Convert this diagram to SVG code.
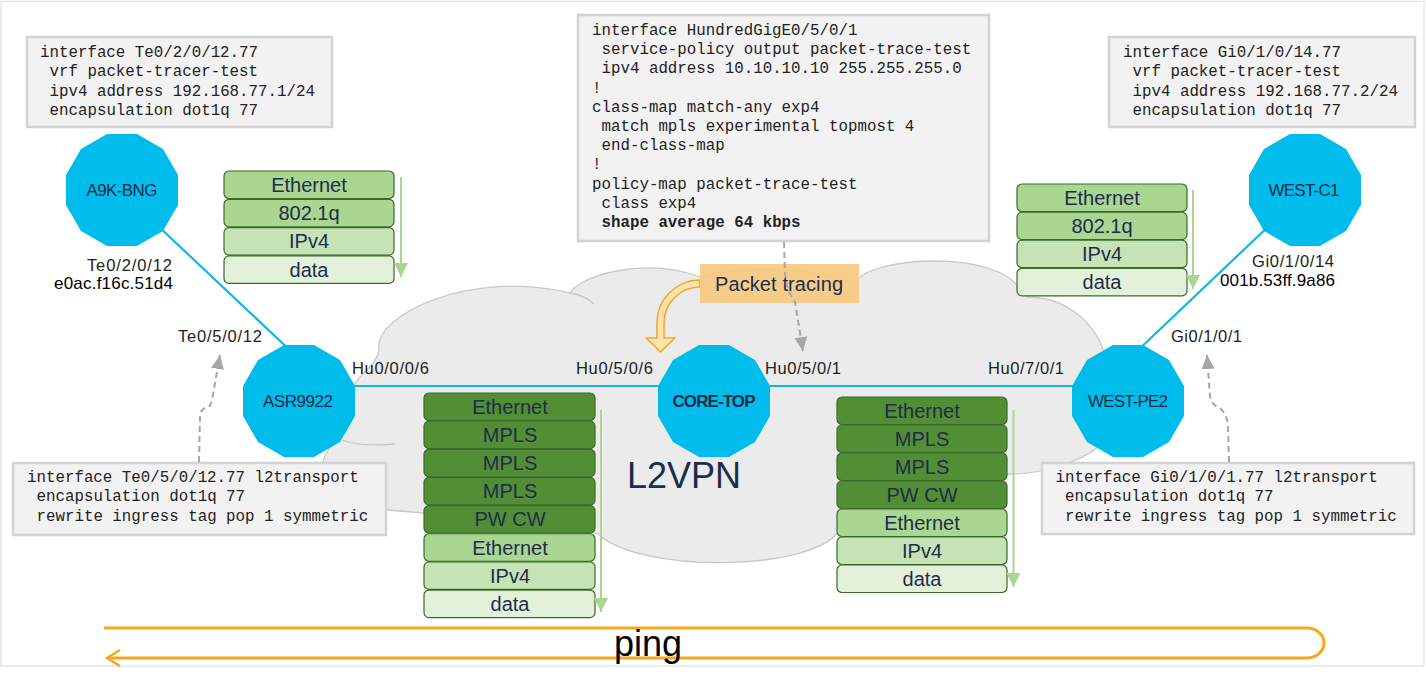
<svg xmlns="http://www.w3.org/2000/svg" xmlns:xlink="http://www.w3.org/1999/xlink" width="1426" height="686" viewBox="0 0 1426 686">
<style>
.cfgbox{fill:#f2f2f2;stroke:#d3d3d3;stroke-width:2.5}
.cfg{font-family:"Liberation Mono","Courier New",monospace;font-size:15.8px;fill:#222}
.node{fill:#00bceb}
.nlabel{font-family:"Liberation Sans",Arial,sans-serif;font-size:17px;fill:#1b2a4a;text-anchor:middle}
.link{stroke:#12b5e5;stroke-width:2.2;fill:none}
.if{font-family:"Liberation Sans",Arial,sans-serif;font-size:16.5px;fill:#222}
.mac{font-family:"Liberation Sans",Arial,sans-serif;font-size:17px;fill:#000}
.r{stroke:#3b6a2a;stroke-width:1.2}
.dk{fill:#528e34}
.md{fill:#a9d691}
.lt{fill:#c6e3b5}
.xl{fill:#e3f1da}
.st{font-family:"Liberation Sans",Arial,sans-serif;font-size:20px;fill:#1c2d4d;text-anchor:middle}
.garrow{stroke:#a9d691;stroke-width:2;fill:none}
.dash{stroke:#a6a6a6;stroke-width:2;stroke-dasharray:6 4;fill:none}
.cloud{fill:#ebebeb;stroke:#c8c8c8;stroke-width:1.3}
.inner{fill:none;stroke:#c8c8c8;stroke-width:1.3}
</style>
<defs>
<polygon id="dodeca" points="56,-15 41,-41 15,-56 -15,-56 -41,-41 -56,-15 -56,15 -41,41 -15,56 15,56 41,41 56,15"/>
<marker id="gArrow" markerUnits="userSpaceOnUse" markerWidth="14" markerHeight="14" refX="12" refY="6" orient="auto" viewBox="0 0 12 12">
<path d="M0,0 L12,6 L0,12 Z" fill="#a9d691"/>
</marker>
<marker id="dArrow" markerUnits="userSpaceOnUse" markerWidth="14" markerHeight="14" refX="13" refY="6" orient="auto" viewBox="0 0 13 12">
<path d="M0,0 L13,6 L0,12 Z" fill="#a6a6a6"/>
</marker>
</defs>

<rect x="1" y="1.5" width="1423" height="664.5" fill="#ffffff" stroke="#e6e6e6" stroke-width="1.5"/>

<g id="cloud-l2vpn">
<path class="cloud" d="M348,400 C352,375 378,368 379,348 C374,318 465,268 570,293 C585,272 650,258 700,277 Q780,258 855,283 C870,255 1000,250 1020,290 L1028,297 A80,80 0 0 1 1104,352 L1098,447 C1080,462 1040,475 1007,474 L837,533 C810,570 640,575 597,533 L424,513 L387,510 L322,470 C322,455 333,441 342,438 L340,420 Z"/>
<path class="inner" d="M342,440 Q360,447 395,444"/>
<path class="inner" d="M570,293 Q586,296 594,304"/>
<text x="627" y="488" font-family="Liberation Sans, Arial, sans-serif" font-size="36" fill="#1c2d4d">L2VPN</text>
</g>

<g id="connectors">
<line class="link" x1="140" y1="209" x2="295" y2="355"/>
<line class="link" x1="299" y1="386" x2="714" y2="386"/>
<line class="link" x1="714" y1="386" x2="1128" y2="386"/>
<line class="link" x1="1133" y1="355" x2="1274" y2="221"/>
</g>

<g id="node-a9k-bng"><use xlink:href="#dodeca" href="#dodeca" x="122" y="190" class="node"/><text class="nlabel" x="122" y="196" textLength="71">A9K-BNG</text></g>
<g id="node-asr9922"><use xlink:href="#dodeca" href="#dodeca" x="299" y="401" class="node"/><text class="nlabel" x="298" y="407" textLength="70">ASR9922</text></g>
<g id="node-core-top"><use xlink:href="#dodeca" href="#dodeca" x="714" y="401" class="node"/><text class="nlabel" x="714" y="407" font-weight="bold" textLength="83">CORE-TOP</text></g>
<g id="node-west-pe2"><use xlink:href="#dodeca" href="#dodeca" x="1128" y="401" class="node"/><text class="nlabel" x="1128" y="407" textLength="80">WEST-PE2</text></g>
<g id="node-west-c1"><use xlink:href="#dodeca" href="#dodeca" x="1305" y="190" class="node"/><text class="nlabel" x="1304" y="196" textLength="71">WEST-C1</text></g>

<g id="interface-labels">
<text class="if" x="87" y="271" textLength="85">Te0/2/0/12</text>
<text class="mac" x="54" y="289" textLength="119">e0ac.f16c.51d4</text>
<text class="if" x="178" y="342" textLength="84">Te0/5/0/12</text>
<text class="if" x="352" y="374" textLength="77">Hu0/0/0/6</text>
<text class="if" x="576" y="374" textLength="77">Hu0/5/0/6</text>
<text class="if" x="765" y="374" textLength="76">Hu0/5/0/1</text>
<text class="if" x="988" y="374" textLength="76">Hu0/7/0/1</text>
<text class="if" x="1171" y="342" textLength="71">Gi0/1/0/1</text>
<text class="if" x="1252" y="267" textLength="82">Gi0/1/0/14</text>
<text class="mac" x="1220" y="286" textLength="115">001b.53ff.9a86</text>
</g>

<g id="config-a9k-bng">
<rect class="cfgbox" x="27" y="37" width="305" height="90"/>
<text class="cfg" x="40" y="57">interface Te0/2/0/12.77</text>
<text class="cfg" x="49.5" y="76">vrf packet-tracer-test</text>
<text class="cfg" x="49.5" y="96">ipv4 address 192.168.77.1/24</text>
<text class="cfg" x="49.5" y="115">encapsulation dot1q 77</text>
</g>

<g id="config-core-top">
<rect class="cfgbox" x="578" y="15" width="411" height="226"/>
<text class="cfg" x="592" y="35">interface HundredGigE0/5/0/1</text>
<text class="cfg" x="601.5" y="54.2">service-policy output packet-trace-test</text>
<text class="cfg" x="601.5" y="73.4">ipv4 address 10.10.10.10 255.255.255.0</text>
<text class="cfg" x="592" y="92.6">!</text>
<text class="cfg" x="592" y="111.8">class-map match-any exp4</text>
<text class="cfg" x="601.5" y="131">match mpls experimental topmost 4</text>
<text class="cfg" x="601.5" y="150.2">end-class-map</text>
<text class="cfg" x="592" y="169.4">!</text>
<text class="cfg" x="592" y="188.6">policy-map packet-trace-test</text>
<text class="cfg" x="601.5" y="207.8">class exp4</text>
<text class="cfg" x="601.5" y="227" font-weight="bold">shape average 64 kbps</text>
</g>

<g id="config-west-c1">
<rect class="cfgbox" x="1109" y="37" width="306" height="90"/>
<text class="cfg" x="1123" y="57">interface Gi0/1/0/14.77</text>
<text class="cfg" x="1132.5" y="76">vrf packet-tracer-test</text>
<text class="cfg" x="1132.5" y="96">ipv4 address 192.168.77.2/24</text>
<text class="cfg" x="1132.5" y="115">encapsulation dot1q 77</text>
</g>

<g id="config-asr9922">
<rect class="cfgbox" x="13" y="463" width="373" height="72"/>
<text class="cfg" x="27" y="482">interface Te0/5/0/12.77 l2transport</text>
<text class="cfg" x="36.5" y="501">encapsulation dot1q 77</text>
<text class="cfg" x="36.5" y="521">rewrite ingress tag pop 1 symmetric</text>
</g>

<g id="config-west-pe2">
<rect class="cfgbox" x="1042" y="463" width="372" height="71"/>
<text class="cfg" x="1055.5" y="482">interface Gi0/1/0/1.77 l2transport</text>
<text class="cfg" x="1065" y="501">encapsulation dot1q 77</text>
<text class="cfg" x="1065" y="521">rewrite ingress tag pop 1 symmetric</text>
</g>

<g id="stack-a9k">
<rect class="r md" x="224" y="171" width="170" height="27.5" rx="5"/>
<rect class="r md" x="224" y="199.3" width="170" height="27.5" rx="5"/>
<rect class="r lt" x="224" y="227.6" width="170" height="27.5" rx="5"/>
<rect class="r xl" x="224" y="255.9" width="170" height="27.5" rx="5"/>
<text class="st" x="309" y="191.8">Ethernet</text>
<text class="st" x="309" y="220.1">802.1q</text>
<text class="st" x="309" y="248.4">IPv4</text>
<text class="st" x="309" y="276.7">data</text>
<line class="garrow" x1="401" y1="177" x2="401" y2="277" marker-end="url(#gArrow)"/>
</g>

<g id="stack-west-c1">
<rect class="r md" x="1017" y="184" width="170" height="27.5" rx="5"/>
<rect class="r md" x="1017" y="212.1" width="170" height="27.5" rx="5"/>
<rect class="r lt" x="1017" y="240.2" width="170" height="27.5" rx="5"/>
<rect class="r xl" x="1017" y="268.3" width="170" height="27.5" rx="5"/>
<text class="st" x="1102" y="204.8">Ethernet</text>
<text class="st" x="1102" y="232.9">802.1q</text>
<text class="st" x="1102" y="261">IPv4</text>
<text class="st" x="1102" y="289.1">data</text>
<line class="garrow" x1="1193" y1="190" x2="1193" y2="289" marker-end="url(#gArrow)"/>
</g>

<g id="stack-core-left">
<rect class="r dk" x="424" y="393" width="171" height="27.5" rx="5"/>
<rect class="r dk" x="424" y="421.15" width="171" height="27.5" rx="5"/>
<rect class="r dk" x="424" y="449.3" width="171" height="27.5" rx="5"/>
<rect class="r dk" x="424" y="477.45" width="171" height="27.5" rx="5"/>
<rect class="r dk" x="424" y="505.6" width="171" height="27.5" rx="5"/>
<rect class="r md" x="424" y="533.75" width="171" height="27.5" rx="5"/>
<rect class="r lt" x="424" y="561.9" width="171" height="27.5" rx="5"/>
<rect class="r xl" x="424" y="590.05" width="171" height="27.5" rx="5"/>
<text class="st" x="510" y="413.8">Ethernet</text>
<text class="st" x="510" y="441.95">MPLS</text>
<text class="st" x="510" y="470.1">MPLS</text>
<text class="st" x="510" y="498.25">MPLS</text>
<text class="st" x="510" y="526.4">PW CW</text>
<text class="st" x="510" y="554.55">Ethernet</text>
<text class="st" x="510" y="582.7">IPv4</text>
<text class="st" x="510" y="610.85">data</text>
<line class="garrow" x1="601" y1="410" x2="601" y2="612" marker-end="url(#gArrow)"/>
</g>

<g id="stack-core-right">
<rect class="r dk" x="837" y="397" width="170" height="27.5" rx="5"/>
<rect class="r dk" x="837" y="425" width="170" height="27.5" rx="5"/>
<rect class="r dk" x="837" y="453" width="170" height="27.5" rx="5"/>
<rect class="r dk" x="837" y="481" width="170" height="27.5" rx="5"/>
<rect class="r md" x="837" y="509" width="170" height="27.5" rx="5"/>
<rect class="r lt" x="837" y="537" width="170" height="27.5" rx="5"/>
<rect class="r xl" x="837" y="565" width="170" height="27.5" rx="5"/>
<text class="st" x="922" y="417.8">Ethernet</text>
<text class="st" x="922" y="445.8">MPLS</text>
<text class="st" x="922" y="473.8">MPLS</text>
<text class="st" x="922" y="501.8">PW CW</text>
<text class="st" x="922" y="529.8">Ethernet</text>
<text class="st" x="922" y="557.8">IPv4</text>
<text class="st" x="922" y="585.8">data</text>
<line class="garrow" x1="1013.5" y1="410" x2="1013.5" y2="587" marker-end="url(#gArrow)"/>
</g>

<g id="packet-tracing">
<path d="M700,280 A43,43 0 0 0 657,323 L657,338 L646,338 L660.5,352 L675,338 L664,338 L664,323 A36,36 0 0 1 700,287 Z" fill="#fde3b0" stroke="#f5a623" stroke-width="1.5" stroke-linejoin="round"/>
<rect x="700" y="264" width="159" height="39" fill="#f7c97f" fill-opacity="0.92"/>
<text x="715" y="291" font-family="Liberation Sans, Arial, sans-serif" font-size="20" fill="#1c2d4d" textLength="128">Packet tracing</text>
</g>

<g id="dashed-pointers">
<path class="dash" d="M784,242 L785,272 Q786,290 795,302 L803,351" marker-end="url(#dArrow)"/>
<path class="dash" d="M199,462 L200,415 Q201,408 210,406 L212,400 L220,355" marker-end="url(#dArrow)"/>
<path class="dash" d="M1229,462 L1228,425 Q1226,410 1216,406 Q1211,403 1210,396 L1207,355" marker-end="url(#dArrow)"/>
</g>

<g id="ping">
<path d="M104,628 L1307,628 A17,15 0 0 1 1307,658 L107,658" fill="none" stroke="#f5a81c" stroke-width="3"/>
<polyline points="120,650 107,658 120,666" fill="none" stroke="#f5a81c" stroke-width="2.5"/>
<text x="614" y="656" font-family="Liberation Sans, Arial, sans-serif" font-size="36" fill="#000">ping</text>
</g>
</svg>
